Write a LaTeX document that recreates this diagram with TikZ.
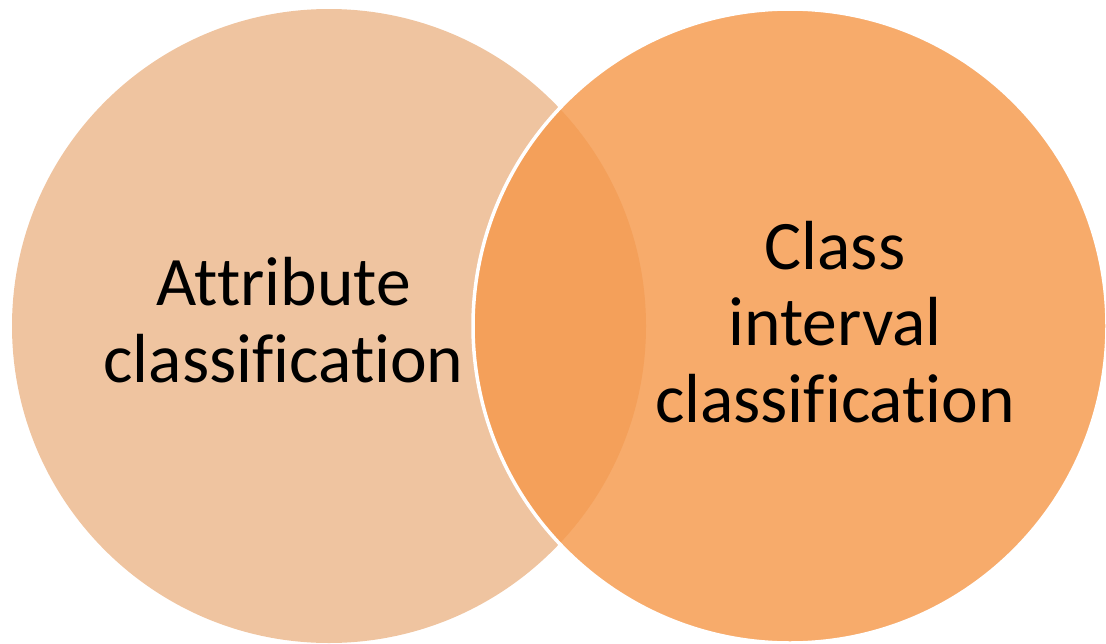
\documentclass[tikz,border=0pt]{standalone}
\usepackage{fontspec}
\setmainfont{Carlito}[Ligatures=NoCommon]
\definecolor{leftfill}{HTML}{EFC4A0}
\definecolor{rightfill}{HTML}{F7AB6B}
\definecolor{overlapfill}{HTML}{F4A05A}
\begin{document}
\begin{tikzpicture}[x=1pt,y=-1pt,
  vlabel/.style={font=\fontsize{69.5}{76.5}\selectfont, align=center, inner sep=0pt, text=black}]
\useasboundingbox (0,0) rectangle (1106,643);
\coordinate (cl) at (329,326);
\coordinate (cr) at (790,326);
\fill[leftfill] (cl) circle[radius=317];
\fill[rightfill] (cr) circle[radius=317];
\begin{scope}
  \clip (cl) circle[radius=317];
  \fill[overlapfill] (cr) circle[radius=317];
\end{scope}
\draw[white, line width=3.5] (cr) circle[radius=317];
\node[vlabel, anchor=base] (attr) at (283.5,382) {Attribute\\classification};
\node[vlabel, anchor=base] (cls) at (835,422) {Class\\interval\\classification};
\end{tikzpicture}
\end{document}
